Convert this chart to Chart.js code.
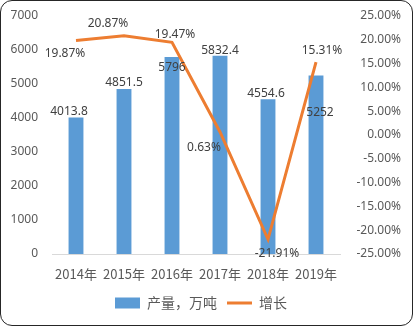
<!DOCTYPE html>
<html>
<head>
<meta charset="utf-8">
<script src="https://cdn.jsdelivr.net/npm/chart.js@4"></script>
<style>
  html, body { margin: 0; padding: 0; background: #fff; }
  #box {
    position: absolute; left: 0; top: 0;
    width: 411px; height: 324px;
    border: 1px solid #262626; border-radius: 12px;
    overflow: hidden; background: #fff;
  }
  canvas { display: block; }
</style>
</head>
<body>
<div id="box"><canvas id="chart" width="411" height="324"></canvas></div>
<script>
const labels = ["2014年", "2015年", "2016年", "2017年", "2018年", "2019年"];
const output = [4013.8, 4851.5, 5796, 5832.4, 4554.6, 5252];
const growth = [19.87, 20.87, 19.47, 0.63, -21.91, 15.31];

// label nudges in px, [dx, dy] from the mark
const barLabelShift = [[-7, -6], [0, -6], [0, 11], [0, -5], [-2, -6], [4, 37]];
const lineLabelShift = [[-11, 13], [-16, -12], [3, -8], [-16, 16], [9, 14], [6, -12]];

const valueLabels = {
  id: "valueLabels",
  afterDatasetsDraw(chart) {
    const ctx = chart.ctx;
    ctx.save();
    ctx.font = "12px 'Noto Sans'";
    ctx.fillStyle = "#404040";
    ctx.textAlign = "center";
    ctx.textBaseline = "middle";
    chart.getDatasetMeta(0).data.forEach(function (bar, i) {
      const s = barLabelShift[i];
      ctx.fillText(String(output[i]), bar.x + s[0], bar.y + s[1]);
    });
    chart.getDatasetMeta(1).data.forEach(function (pt, i) {
      const s = lineLabelShift[i];
      ctx.fillText(growth[i].toFixed(2) + "%", pt.x + s[0], pt.y + s[1]);
    });
    ctx.restore();
  },
};

const data = {
  labels: labels,
  datasets: [
    {
      type: "bar",
      label: "产量，万吨",
      data: output,
      backgroundColor: "#5B9BD5",
      borderWidth: 0,
      barPercentage: 1,
      categoryPercentage: 0.31,
      yAxisID: "y",
      pointStyle: "rect",
      order: 2,
    },
    {
      type: "line",
      label: "增长",
      data: growth,
      borderColor: "#ED7D31",
      backgroundColor: "#ED7D31",
      borderWidth: 3,
      tension: 0,
      pointRadius: 0,
      pointStyle: "line",
      yAxisID: "y1",
      order: 1,
    },
  ],
};

const tickFont = { family: "'Noto Sans'", size: 12 };

const config = {
  data: data,
  options: {
    responsive: false,
    animation: false,
    layout: { padding: { left: 0, right: 11, top: 15, bottom: 5 } },
    plugins: {
      legend: {
        position: "bottom",
        labels: {
          usePointStyle: true,
          pointStyleWidth: 25,
          boxHeight: 11,
          padding: 10,
          color: "#595959",
          font: { family: "'Noto Sans CJK SC'", size: 14 },
          sort: function (a, b) { return a.datasetIndex - b.datasetIndex; },
        },
      },
      tooltip: { enabled: false },
    },
    scales: {
      x: {
        grid: { display: false, drawTicks: false },
        border: { display: true, color: "#D9D9D9", width: 1 },
        ticks: {
          padding: 12,
          color: "#595959",
          font: { family: "'Noto Sans CJK SC'", size: 13 },
        },
        afterFit(scale) { scale.height = 32; },
      },
      y: {
        position: "left",
        min: 0,
        max: 7000,
        grid: { display: false, drawTicks: false },
        border: { display: false },
        ticks: {
          stepSize: 1000,
          padding: 14,
          color: "#595959",
          font: tickFont,
          callback: function (v) { return String(v); },
        },
        afterFit(scale) {
          scale.width = 51;
          scale.paddingTop = 0;
          scale.paddingBottom = 0;
        },
      },
      y1: {
        position: "right",
        min: -25,
        max: 25,
        grid: { display: false, drawTicks: false },
        border: { display: false },
        ticks: {
          stepSize: 5,
          padding: 3,
          crossAlign: "far",
          color: "#595959",
          font: tickFont,
          callback: function (v) { return v.toFixed(2) + "%"; },
        },
        afterFit(scale) {
          scale.width = 61;
          scale.paddingTop = 0;
          scale.paddingBottom = 0;
        },
      },
    },
  },
  plugins: [valueLabels],
};

const comboChart = new Chart(document.getElementById("chart"), config);
</script>
</body>
</html>
